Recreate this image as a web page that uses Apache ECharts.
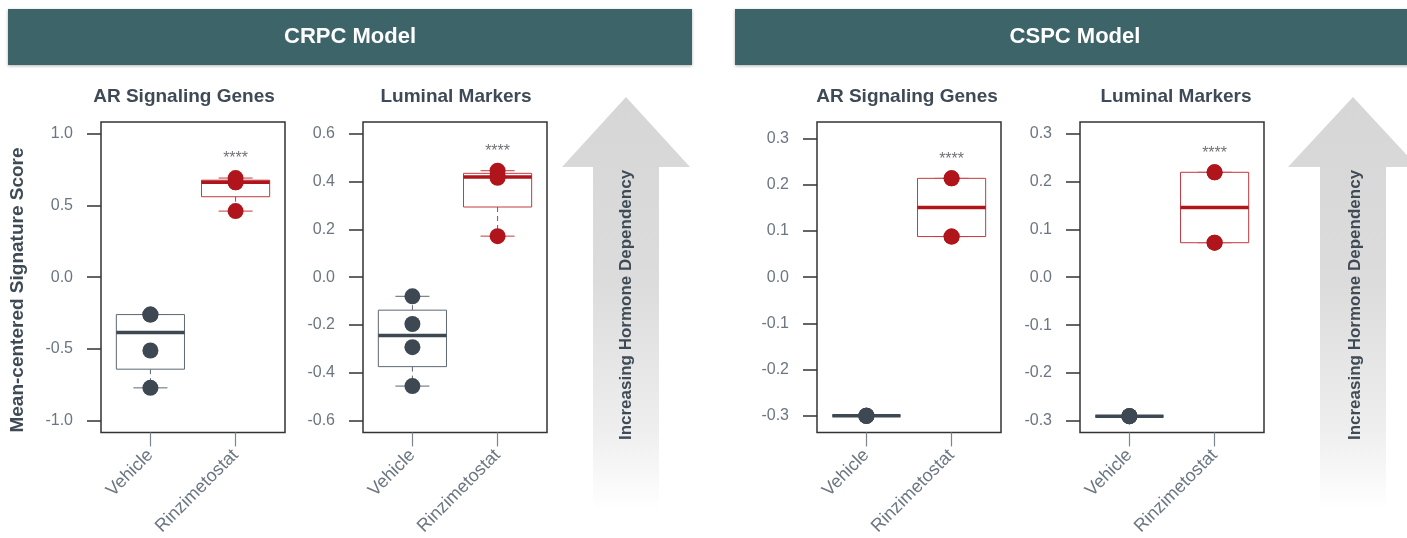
<!DOCTYPE html>
<html>
<head>
<meta charset="utf-8">
<script src="https://cdn.jsdelivr.net/npm/echarts@6/dist/echarts.min.js"></script>
<style>
  html, body { margin: 0; padding: 0; background: #ffffff; }
  #chart { width: 1407px; height: 538px; }
</style>
</head>
<body>
<div id="chart"></div>
<script>
// Treatment groups on every panel
const groups = ['Vehicle', 'Rinzimetostat'];

// Mean-centered signature scores per sample
const crpcArVehicle  = [-0.77, -0.51, -0.26, -0.26];
const crpcArRinz     = [0.46, 0.66, 0.66, 0.69];
const crpcLumVehicle = [-0.456, -0.293, -0.196, -0.08];
const crpcLumRinz    = [0.172, 0.416, 0.424, 0.446];
const cspcArVehicle  = [-0.30, -0.30, -0.30, -0.30];
const cspcArRinz     = [0.088, 0.088, 0.214, 0.214];
const cspcLumVehicle = [-0.29, -0.29, -0.29, -0.29];
const cspcLumRinz    = [0.072, 0.072, 0.219, 0.219];

// Panel titles, model headers and significance marks
const panelTitles = ['AR Signaling Genes', 'Luminal Markers', 'AR Signaling Genes', 'Luminal Markers'];
const modelNames = ['CRPC Model', 'CSPC Model'];
const significance = ['****', '****', '****', '****'];

// Y tick labels
const crpcArTicks  = [-1.0, -0.5, 0.0, 0.5, 1.0];
const crpcLumTicks = [-0.6, -0.4, -0.2, 0.0, 0.2, 0.4, 0.6];
const cspcArTicks  = [-0.3, -0.2, -0.1, 0.0, 0.1, 0.2, 0.3];
const cspcLumTicks = [-0.3, -0.2, -0.1, 0.0, 0.1, 0.2, 0.3];

const FONT = '"Liberation Sans", Arial, Helvetica, sans-serif';
const C = {
  vehPoint: '#3d4853', vehBox: '#5d6872', vehMed: '#3d4853',
  rinPoint: '#b0151b', rinBox: '#c33a3f', rinMed: '#b0151b',
  frame: '#333333', tickText: '#6b7682', title: '#3e4a56',
  header: '#3d6569'
};

const panels = [
  { vehicle: crpcArVehicle,  rinz: crpcArRinz,  ticks: crpcArTicks,  yMin: -1.08,  yMax: 1.08,  left: 101,  titleX: 184 },
  { vehicle: crpcLumVehicle, rinz: crpcLumRinz, ticks: crpcLumTicks, yMin: -0.65,  yMax: 0.65,  left: 363,  titleX: 456 },
  { vehicle: cspcArVehicle,  rinz: cspcArRinz,  ticks: cspcArTicks,  yMin: -0.336, yMax: 0.336, left: 817,  titleX: 907 },
  { vehicle: cspcLumVehicle, rinz: cspcLumRinz, ticks: cspcLumTicks, yMin: -0.324, yMax: 0.324, left: 1080, titleX: 1176 }
];
const GRID_W = 184, GRID_TOP = 122, GRID_H = 311;

// Tukey five-number summary (lower hinge / upper hinge as in R's boxplot)
function fivenum(values) {
  const x = values.slice().sort((a, b) => a - b);
  const n = x.length;
  const n4 = Math.floor((n + 3) / 2) / 2;
  const d = [1, n4, (n + 1) / 2, n + 1 - n4, n];
  return d.map(k => 0.5 * (x[Math.floor(k) - 1] + x[Math.ceil(k) - 1]));
}
function boxStats(values, pos) {
  const f = fivenum(values);
  const iqr = f[3] - f[1];
  const inside = values.filter(v => v >= f[1] - 1.5 * iqr && v <= f[3] + 1.5 * iqr);
  return [pos, Math.min(...inside), f[1], f[2], f[3], Math.max(...inside)];
}

function renderBox(params, api) {
  const x = api.value(0);
  const lo = api.value(1), q1 = api.value(2), med = api.value(3), q3 = api.value(4), hi = api.value(5);
  const isVeh = params.dataIndex === 0;
  const boxCol = isVeh ? C.vehBox : C.rinBox;
  const medCol = isVeh ? C.vehMed : C.rinMed;
  const p = (xx, yy) => api.coord([xx, yy]);
  const tl = p(x - 0.4, q3), br = p(x + 0.4, q1);
  const line = (a, b, style) => ({ type: 'line', shape: { x1: a[0], y1: a[1], x2: b[0], y2: b[1] }, style });
  const thin = { stroke: boxCol, lineWidth: 1 };
  const dashed = { stroke: boxCol, lineWidth: 1, lineDash: [5, 4] };
  return {
    type: 'group',
    children: [
      line(p(x, q3), p(x, hi), dashed),
      line(p(x, q1), p(x, lo), dashed),
      line(p(x - 0.2, hi), p(x + 0.2, hi), thin),
      line(p(x - 0.2, lo), p(x + 0.2, lo), thin),
      { type: 'rect', shape: { x: tl[0], y: tl[1], width: br[0] - tl[0], height: br[1] - tl[1] },
        style: { fill: '#ffffff', stroke: boxCol, lineWidth: 1 } },
      line(p(x - 0.4, med), p(x + 0.4, med), { stroke: medCol, lineWidth: 3.5 })
    ]
  };
}

const grid = [], xAxis = [], yAxis = [], series = [];
panels.forEach((pn, i) => {
  grid.push({ left: pn.left, top: GRID_TOP, width: GRID_W, height: GRID_H,
    show: true, borderColor: C.frame, borderWidth: 1.5, backgroundColor: '#ffffff' });
  xAxis.push({
    type: 'value', gridIndex: i, min: 0.42, max: 2.58, position: 'bottom',
    axisLine: { show: false, onZero: false }, splitLine: { show: false },
    axisTick: { show: true, customValues: [1, 2], length: 14, lineStyle: { color: '#7d858c', width: 1.2 } },
    axisLabel: { show: true, customValues: [1, 2], rotate: 45, margin: 20,
      formatter: v => groups[Math.round(v) - 1] || '',
      fontSize: 18, color: C.tickText, fontFamily: FONT }
  });
  yAxis.push({
    type: 'value', gridIndex: i, min: pn.yMin, max: pn.yMax, position: 'left',
    axisLine: { show: false, onZero: false }, splitLine: { show: false },
    axisTick: { show: true, customValues: pn.ticks, length: 14, lineStyle: { color: C.frame, width: 1.5 } },
    axisLabel: { show: true, customValues: pn.ticks, margin: 28,
      formatter: v => v.toFixed(1), fontSize: 16, color: C.tickText, fontFamily: FONT }
  });
  series.push({
    type: 'custom', xAxisIndex: i, yAxisIndex: i, renderItem: renderBox, z: 2,
    data: [boxStats(pn.vehicle, 1), boxStats(pn.rinz, 2)]
  });
  series.push({
    type: 'scatter', xAxisIndex: i, yAxisIndex: i, symbol: 'circle', symbolSize: 16, z: 3,
    itemStyle: { color: C.vehPoint, opacity: 1 },
    data: pn.vehicle.map(v => [1, v])
  });
  series.push({
    type: 'scatter', xAxisIndex: i, yAxisIndex: i, symbol: 'circle', symbolSize: 16, z: 3,
    itemStyle: { color: C.rinPoint, opacity: 1 },
    data: pn.rinz.map(v => [2, v])
  });
  series.push({
    type: 'scatter', xAxisIndex: i, yAxisIndex: i, symbolSize: 0, z: 4, silent: true,
    data: [[2, Math.max(...pn.rinz)]],
    label: { show: true, position: 'top', distance: 11, formatter: significance[i],
      fontSize: 16, color: '#4a4f55', fontFamily: FONT }
  });
});

// Header bars, panel titles, arrows and side labels
function arrow(tipX, headHalf, shaftHalf) {
  const headBase = 167, bottom = 510;
  return {
    type: 'polygon', z: 0,
    shape: { points: [
      [tipX, 97], [tipX + headHalf, headBase], [tipX + shaftHalf, headBase],
      [tipX + shaftHalf, bottom], [tipX - shaftHalf, bottom],
      [tipX - shaftHalf, headBase], [tipX - headHalf, headBase]
    ] },
    style: { fill: new echarts.graphic.LinearGradient(0, 0, 0, 1, [
      { offset: 0, color: '#d6d6d6' },
      { offset: 0.45, color: '#dcdcdc' },
      { offset: 0.8, color: '#eeeeee' },
      { offset: 1, color: '#ffffff' }
    ]) }
  };
}
function label(text, x, y, size, color, rotation) {
  return { type: 'text', x, y, rotation: rotation || 0, z: 10,
    style: { text, fill: color, fontSize: size, fontWeight: 'bold', fontFamily: FONT,
      align: 'center', verticalAlign: 'middle' } };
}

const graphic = [
  { type: 'rect', shape: { x: 8, y: 9, width: 684, height: 56 },
    style: { fill: C.header, shadowBlur: 3, shadowOffsetY: 1, shadowColor: 'rgba(0,0,0,0.3)' } },
  { type: 'rect', shape: { x: 735, y: 9, width: 690, height: 56 },
    style: { fill: C.header, shadowBlur: 3, shadowOffsetY: 1, shadowColor: 'rgba(0,0,0,0.3)' } },
  label(modelNames[0], 350, 37, 22, '#ffffff'),
  label(modelNames[1], 1075, 37, 22, '#ffffff'),
  arrow(626, 64, 33),
  arrow(1353, 65, 33),
  label('Increasing Hormone Dependency', 626, 305, 17, C.title, Math.PI / 2),
  label('Increasing Hormone Dependency', 1355, 305, 17, C.title, Math.PI / 2),
  label('Mean-centered Signature Score', 18, 290, 19, C.title, Math.PI / 2)
];
panels.forEach((pn, i) => graphic.push(label(panelTitles[i], pn.titleX, 97, 19, C.title)));

const chart = echarts.init(document.getElementById('chart'), null, { renderer: 'canvas' });
chart.setOption({
  backgroundColor: '#ffffff',
  animation: false,
  grid, xAxis, yAxis, series, graphic
});
</script>
</body>
</html>
